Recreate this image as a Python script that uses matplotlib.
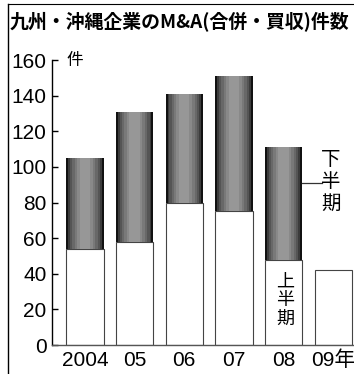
import matplotlib.pyplot as plt
import numpy as np

# 九州・沖縄企業のM&A件数 (上半期 / 下半期)
years = ['2004', '05', '06', '07', '08', '09年']
first_half = [54, 58, 80, 75, 48, 42]
second_half = [51, 73, 61, 76, 63, 0]

plt.rcParams['font.family'] = ['Liberation Sans', 'Noto Sans CJK JP']

x = np.arange(len(years))
width = 0.75

fig = plt.figure(figsize=(3.54, 3.74), dpi=100)
ax = fig.add_axes([0.147, 0.0775, 0.853, 0.762])

# lower part (first half)
ax.bar(x, first_half, width, color='white', edgecolor='#444444', linewidth=0.8, zorder=2)

# upper part (second half) with a rough cylinder-like shading
shades = [(1.0, '#111111'), (0.9, '#3c3c3c'), (0.8, '#555555'), (0.68, '#686868'),
          (0.55, '#797979'), (0.42, '#898989'), (0.28, '#979797')]
for frac, col in shades:
    ax.bar(x[:5], second_half[:5], width * frac, bottom=first_half[:5], color=col,
           linewidth=0, zorder=3)

ax.set_xlim(-0.665, 5.42)
ax.set_ylim(0, 160)
ax.set_yticks(range(0, 161, 20))
ax.set_xticks(x)
ax.set_xticklabels(years)
ax.tick_params(axis='y', direction='in', length=4, width=1, labelsize=15, pad=4)
ax.tick_params(axis='x', length=0, labelsize=15, pad=4)
for side in ['top', 'right']:
    ax.spines[side].set_visible(False)
ax.spines['left'].set_linewidth(1)
ax.spines['bottom'].set_linewidth(1)
ax.spines['bottom'].set_color('#555555')

# unit and legend labels
ax.text(-0.37, 160, '件', fontsize=12, va='center', ha='left', family=['Noto Sans CJK JP'])
ax.text(4.96, 92, '下\n半\n期', fontsize=14, va='center', ha='center', linespacing=1.05,
        family=['Noto Sans CJK JP'])
ax.plot([4.375, 4.78], [91, 91], color='#333333', lw=0.9, zorder=4, clip_on=False)
ax.text(4.03, 25, '上\n半\n期', fontsize=13, va='center', ha='center', linespacing=1.05,
        family=['Noto Sans CJK JP'], zorder=5)

# title and frame lines
fig.text(10 / 354, 1 - 21 / 374, '九州・沖縄企業のM&A(合併・買収)件数', fontsize=13.6,
         fontweight='bold', va='center', ha='left', family=['Noto Sans CJK JP'])
fig.add_artist(plt.Line2D([8 / 354, 8 / 354], [0, 1 - 4 / 374], color='black', lw=1))
fig.add_artist(plt.Line2D([8 / 354, 1], [1 - 4 / 374, 1 - 4 / 374], color='black', lw=0.8))

fig.savefig('out.png', dpi=100)
